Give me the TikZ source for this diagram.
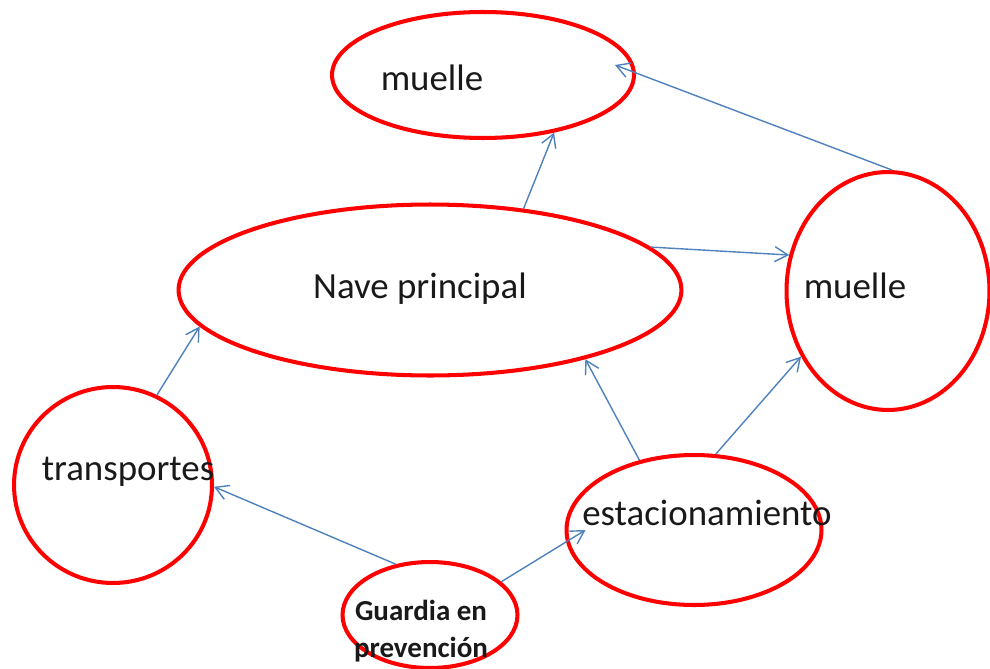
\documentclass[tikz,border=0pt]{standalone}
\usepackage{fontspec}
\setmainfont{Carlito}
\usetikzlibrary{arrows.meta,shapes.geometric}
\definecolor{azul}{RGB}{79,129,189}
\tikzset{
	zona/.style={draw=red, line width=2.3pt, ellipse, inner sep=0pt},
	enlace/.style={-{Straight Barb[length=2.6mm,width=3mm]}, draw=azul, line width=0.8pt},
	rotulo/.style={font=\fontsize{21}{25}\selectfont, text=black!90, anchor=base, inner sep=0pt}
}

\begin{document}
\begin{tikzpicture}[x=0.02cm,y=-0.02cm]
	\useasboundingbox (0,0) rectangle (990,669);

	% Zones
	\node[zona, minimum width=6.04cm, minimum height=2.52cm] (muelleA) at (483,75) {};
	\node[zona, minimum width=10.06cm, minimum height=3.42cm] (nave) at (430,290) {};
	\node[zona, minimum width=4.06cm, minimum height=4.76cm] (muelleB) at (888,291) {};
	\node[zona, minimum width=3.96cm, minimum height=3.92cm] (transp) at (113,485) {};
	\node[zona, minimum width=5.1cm, minimum height=3cm] (estac) at (694,530) {};
	\node[zona, minimum width=3.5cm, minimum height=2.12cm] (guardia) at (430,615) {};

	% Labels
	\node[rotulo] (t-muelleA) at (432,91) {muelle};
	\node[rotulo] (t-nave) at (420,298) {Nave principal};
	\node[rotulo] (t-muelleB) at (855,298) {muelle};
	\node[rotulo] (t-transp) at (128,480) {transportes};
	\node[rotulo] (t-estac) at (707,525) {estacionamiento};
	\node[rotulo, font=\fontsize{16.5}{20.5}\selectfont\bfseries, align=center] (t-guardia) at (421,657) {Guardia en\\prevención};

	% Arrow ends that sit inside the ellipses
	\coordinate (muelleA-in) at ([shift={(-0.42cm,0.2cm)}]muelleA.east);
	\coordinate (estac-in) at ([xshift=0.42cm]estac.west);

	% Links
	\draw[enlace] (nave.41) -- (muelleA.-39);
	\draw[enlace] (muelleB.88) -- (muelleA-in);
	\draw[enlace] (nave.11) -- (muelleB.160);
	\draw[enlace] (transp.64) -- (nave.189);
	\draw[enlace] (estac.128) -- (nave.-24);
	\draw[enlace] (estac.74) -- (muelleB.-143);
	\draw[enlace] (guardia.124) -- (transp.-1);
	\draw[enlace] (guardia.25) -- (estac-in);
\end{tikzpicture}
\end{document}
